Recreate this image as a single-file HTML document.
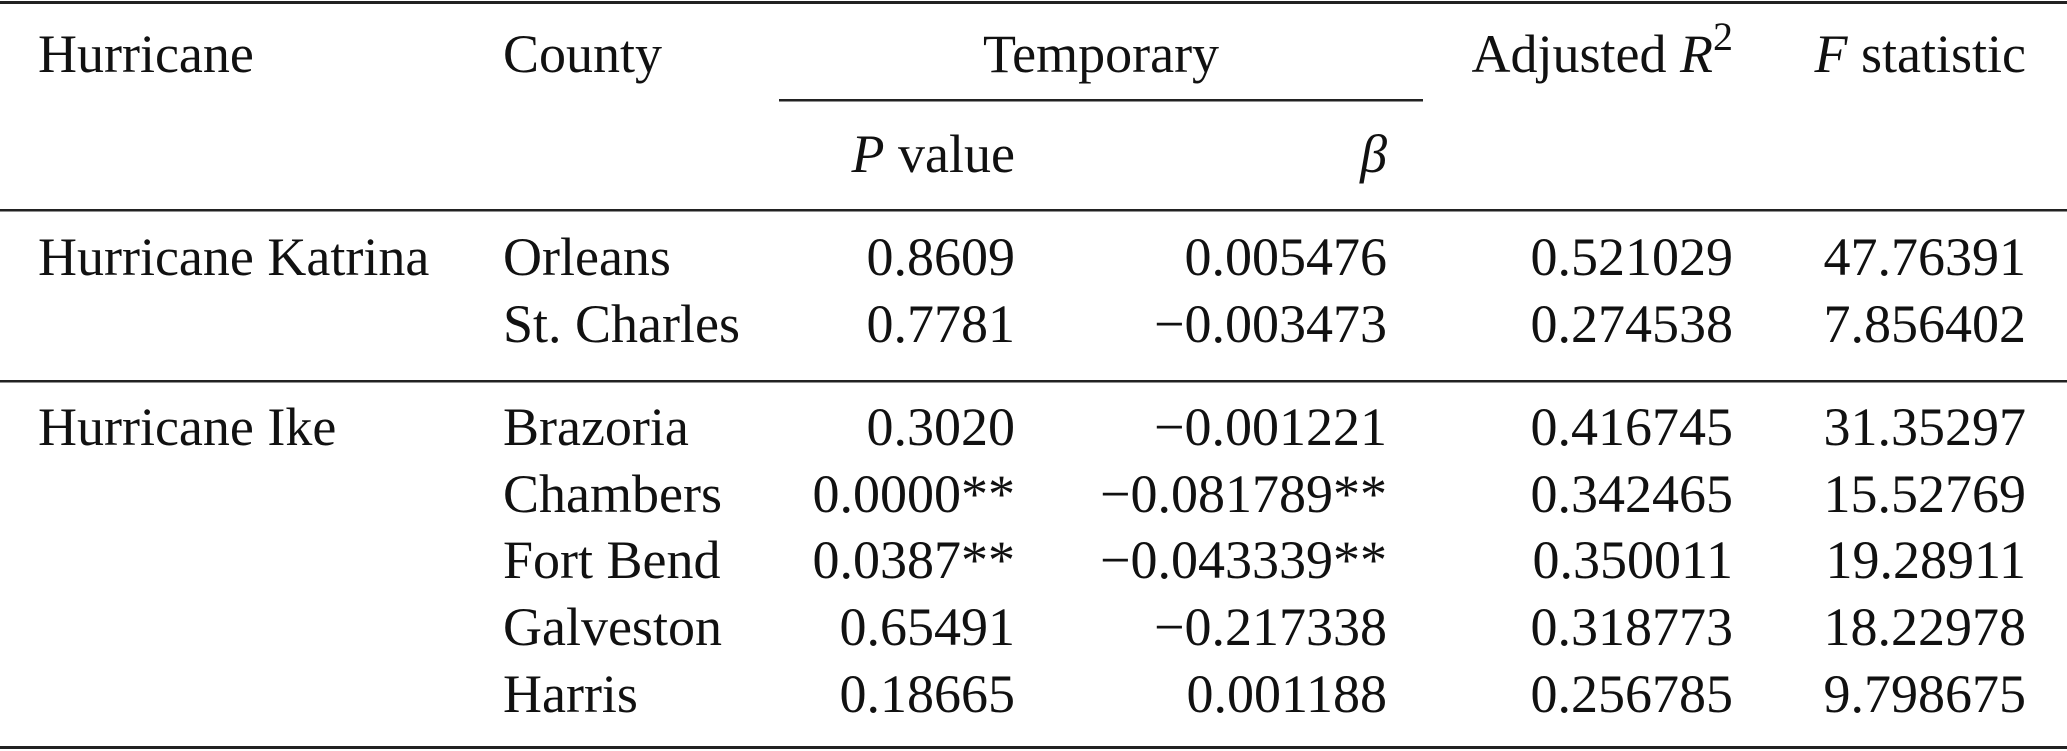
<!DOCTYPE html>
<html><head><style>html,body{margin:0;padding:0;background:#fff}svg{display:block}</style></head>
<body>
<svg width="2067" height="751" xmlns="http://www.w3.org/2000/svg" font-family="Liberation Serif, serif" font-size="54" fill="#111">
<rect x="0" y="1" width="2067" height="3" fill="#222"/>
<rect x="779" y="99" width="644" height="2.5" fill="#222"/>
<rect x="0" y="209" width="2067" height="2.5" fill="#222"/>
<rect x="0" y="380" width="2067" height="2.5" fill="#222"/>
<rect x="0" y="746" width="2067" height="3" fill="#222"/>
<text x="38" y="72">Hurricane</text>
<text x="503" y="72">County</text>
<text x="1101" y="72" text-anchor="middle">Temporary</text>
<text x="1733" y="72" text-anchor="end">Adjusted <tspan font-style="italic">R</tspan><tspan font-size="40" dy="-22">2</tspan></text>
<text x="2026" y="72" text-anchor="end"><tspan font-style="italic">F</tspan> statistic</text>
<text x="1015" y="172" text-anchor="end"><tspan font-style="italic">P</tspan> value</text>
<text x="1387" y="172" text-anchor="end" font-style="italic">β</text>
<text x="38" y="275">Hurricane Katrina</text>
<text x="503" y="275">Orleans</text><text x="1015" y="275" text-anchor="end">0.8609</text><text x="1387" y="275" text-anchor="end">0.005476</text><text x="1733" y="275" text-anchor="end">0.521029</text><text x="2026" y="275" text-anchor="end">47.76391</text>
<text x="503" y="342">St. Charles</text><text x="1015" y="342" text-anchor="end">0.7781</text><text x="1387" y="342" text-anchor="end">−0.003473</text><text x="1733" y="342" text-anchor="end">0.274538</text><text x="2026" y="342" text-anchor="end">7.856402</text>
<text x="38" y="445">Hurricane Ike</text>
<text x="503" y="445">Brazoria</text><text x="1015" y="445" text-anchor="end">0.3020</text><text x="1387" y="445" text-anchor="end">−0.001221</text><text x="1733" y="445" text-anchor="end">0.416745</text><text x="2026" y="445" text-anchor="end">31.35297</text>
<text x="503" y="512">Chambers</text><text x="1015" y="512" text-anchor="end">0.0000**</text><text x="1387" y="512" text-anchor="end">−0.081789**</text><text x="1733" y="512" text-anchor="end">0.342465</text><text x="2026" y="512" text-anchor="end">15.52769</text>
<text x="503" y="578">Fort Bend</text><text x="1015" y="578" text-anchor="end">0.0387**</text><text x="1387" y="578" text-anchor="end">−0.043339**</text><text x="1733" y="578" text-anchor="end">0.350011</text><text x="2026" y="578" text-anchor="end">19.28911</text>
<text x="503" y="645">Galveston</text><text x="1015" y="645" text-anchor="end">0.65491</text><text x="1387" y="645" text-anchor="end">−0.217338</text><text x="1733" y="645" text-anchor="end">0.318773</text><text x="2026" y="645" text-anchor="end">18.22978</text>
<text x="503" y="712">Harris</text><text x="1015" y="712" text-anchor="end">0.18665</text><text x="1387" y="712" text-anchor="end">0.001188</text><text x="1733" y="712" text-anchor="end">0.256785</text><text x="2026" y="712" text-anchor="end">9.798675</text>
</svg>
</body></html>
